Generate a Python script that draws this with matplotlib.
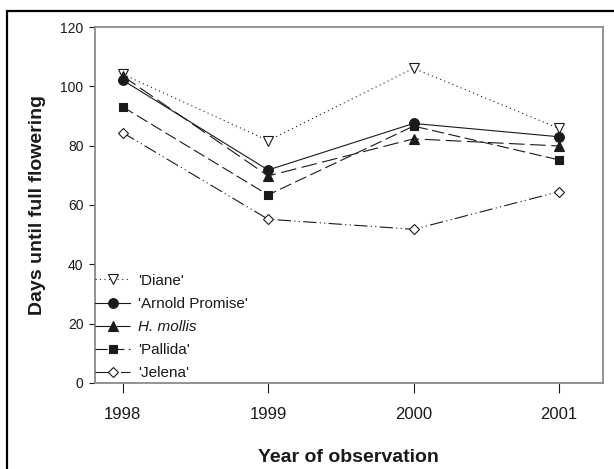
import matplotlib
matplotlib.use("Agg")
import matplotlib.pyplot as plt
from matplotlib.patches import Rectangle

plt.rcParams["font.family"] = ["Liberation Sans", "DejaVu Sans"]

# data
years = [1998, 1999, 2000, 2001]
diane = [104.1, 81.7, 106.1, 85.8]
arnold = [102.1, 71.8, 87.5, 83.0]
mollis = [103.5, 69.8, 82.3, 79.9]
pallida = [93.1, 63.4, 86.6, 75.2]
jelena = [84.4, 55.2, 51.8, 64.5]
labels = ["'Diane'", "'Arnold Promise'", "H. mollis", "'Pallida'", "'Jelena'"]
yticks = [0, 20, 40, 60, 80, 100, 120]

INK = "#1a1a1a"
SPINE = "#8a8a8a"

fig = plt.figure(figsize=(6.14, 4.69), dpi=100)
ax = fig.add_axes([0.1547, 0.1834, 0.9816 - 0.1547, 0.9424 - 0.1834])

kw = dict(color=INK, lw=0.8, markeredgecolor=INK, markeredgewidth=0.8)
ax.plot(years, diane, linestyle=(0, (1, 3)), marker="v", ms=7,
        markerfacecolor="white", label=labels[0], **kw)
ax.plot(years, arnold, linestyle="-", marker="o", ms=7,
        markerfacecolor=INK, label=labels[1], **kw)
ax.plot(years, mollis, linestyle=(0, (14, 5)), marker="^", ms=7,
        markerfacecolor=INK, label=labels[2], **kw)
ax.plot(years, pallida, linestyle=(0, (11, 4)), marker="s", ms=6.3,
        markerfacecolor=INK, label=labels[3], **kw)
ax.plot(years, jelena, linestyle=(0, (12, 3, 1, 3, 1, 3)), marker="D", ms=5.3,
        markerfacecolor="white", label=labels[4], **kw)

ax.set_xlim(1997.81, 2001.30)
ax.set_ylim(0, 120)
ax.set_xticks(years)
ax.set_yticks(yticks)

for s in ax.spines.values():
    s.set_color(SPINE); s.set_linewidth(1.3)
ax.tick_params(axis="x", direction="out", length=7.5, width=0.8, color=INK,
               labelsize=12, pad=9.5, labelcolor=INK)
ax.tick_params(axis="y", direction="out", length=4.3, width=0.8, color=INK,
               labelsize=10, pad=4, labelcolor=INK)

ax.set_xlabel("Year of observation", fontsize=14, fontweight="bold",
              color=INK, labelpad=20)
ax.set_ylabel("Days until full flowering", fontsize=14, fontweight="bold",
              color=INK, labelpad=10)

leg = ax.legend(loc="lower left", bbox_to_anchor=(0.0, 0.007), frameon=False,
                fontsize=11, handlelength=2.3, handletextpad=0.5,
                labelspacing=0.6, borderaxespad=0.0, borderpad=0.0)
for t in leg.get_texts():
    t.set_color(INK)
leg.get_texts()[2].set_fontstyle("italic")

# outer frame around the figure
fig.patches.append(Rectangle((0.0114, -0.05), 1.1, 0.9776 + 0.05,
                             transform=fig.transFigure, fill=False,
                             edgecolor="black", lw=1.6))

fig.savefig("out.png", dpi=100)
